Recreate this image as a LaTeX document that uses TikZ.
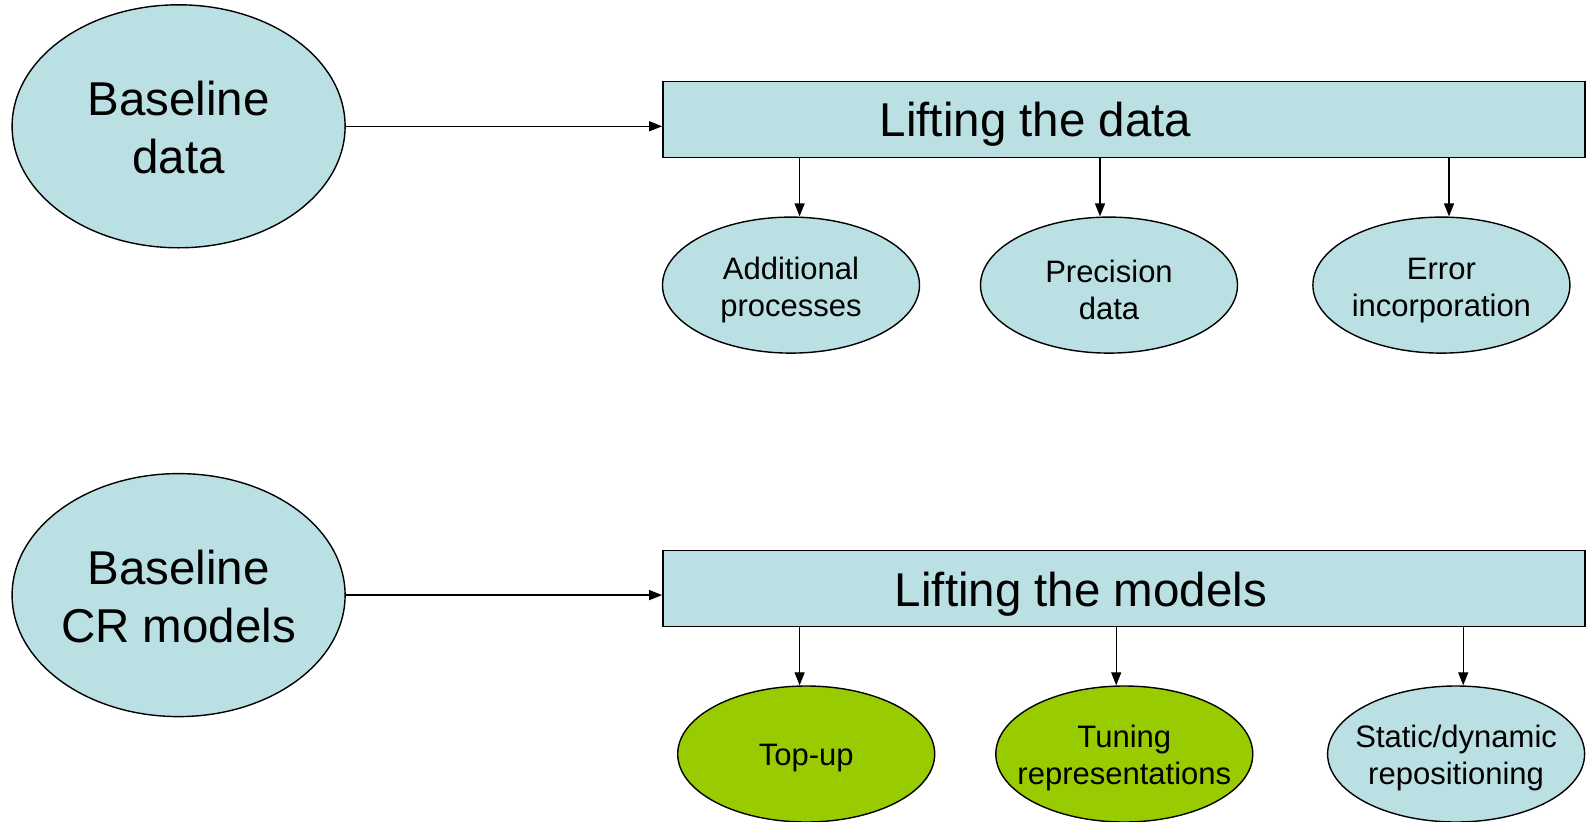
\documentclass[tikz,border=0pt]{standalone}
\usepackage{fontspec}
\setmainfont{Liberation Sans}
\usetikzlibrary{shapes.geometric,arrows.meta}
\definecolor{paleblue}{HTML}{BBE0E3}
\definecolor{leafgreen}{HTML}{99CC00}
\tikzset{
  big/.style={ellipse,draw=black,line width=1.4pt,fill=paleblue,inner sep=0pt,
    minimum width=333pt,minimum height=243pt},
  bigtext/.style={inner sep=0pt,align=center,font=\fontsize{47.5}{58}\selectfont},
  headbox/.style={rectangle,draw=black,line width=1.4pt,fill=paleblue,inner sep=0pt,
    minimum width=922pt,minimum height=76pt},
  headtext/.style={inner sep=0pt,font=\fontsize{47.5}{58}\selectfont},
  small/.style={ellipse,draw=black,line width=1.4pt,fill=paleblue,inner sep=0pt,
    minimum width=257pt,minimum height=136pt},
  smalltext/.style={inner sep=0pt,align=center,font=\fontsize{31}{37}\selectfont},
  greenfill/.style={fill=leafgreen},
  arr/.style={line width=1.3pt,-{Triangle[length=13pt,width=10pt]}}
}
\begin{document}
\begin{tikzpicture}[x=1pt,y=-1pt]
\useasboundingbox (0,0) rectangle (1591,822);

% upper row: data
\node[big] (bd) at (178.6,126.3) {};
\node[bigtext] (bdt) at ([yshift=-1pt]bd.center) {Baseline\\data};
\node[headbox] (ld) at (1123.8,119.3) {};
\node[headtext] (ldt) at (1035.5,124.5) {Lifting the data};
\node[small] (ap) at (791,285.1) {};
\node[smalltext] (apt) at ([yshift=-5pt]ap.center) {Additional\\processes};
\node[small] (pd) at (1109,285.1) {};
\node[smalltext] (pdt) at ([yshift=-5pt]pd.center) {Precision\\data};
\node[small] (ei) at (1441.4,285.1) {};
\node[smalltext] (eit) at ([yshift=-5pt]ei.center) {Error\\incorporation};

% lower row: models
\node[big] (bm) at (178.6,595.1) {};
\node[bigtext] (bmt) at ([yshift=-1pt]bm.center) {Baseline\\CR models};
\node[headbox] (lm) at (1123.8,588.5) {};
\node[headtext] (lmt) at (1081,594) {Lifting the models};
\node[small,greenfill] (tu) at (806.2,754) {};
\node[smalltext] (tut) at ([yshift=-4pt]tu.center) {Top-up};
\node[small,greenfill] (tr) at (1124.3,754) {};
\node[smalltext] (trt) at ([yshift=-4pt]tr.center) {Tuning\\representations};
\node[small] (sd) at (1456.1,754) {};
\node[smalltext] (sdt) at ([yshift=-4pt]sd.center) {Static/dynamic\\repositioning};

% drop points of the vertical connectors
\coordinate (u1) at (799.6,0);
\coordinate (u2) at (1100,0);
\coordinate (u3) at (1449,0);
\coordinate (d1) at (799.6,0);
\coordinate (d2) at (1116.2,0);
\coordinate (d3) at (1463.2,0);

% connectors
\draw[arr] (bd.east) -- (bd.east -| ld.west);
\draw[arr] (bm.east) -- (bm.east -| lm.west);
\draw[arr] (ld.south -| u1) -- (ap.north -| u1);
\draw[arr] (ld.south -| u2) -- (pd.north -| u2);
\draw[arr] (ld.south -| u3) -- (ei.north -| u3);
\draw[arr] (lm.south -| d1) -- (tu.north -| d1);
\draw[arr] (lm.south -| d2) -- (tr.north -| d2);
\draw[arr] (lm.south -| d3) -- (sd.north -| d3);
\end{tikzpicture}
\end{document}
